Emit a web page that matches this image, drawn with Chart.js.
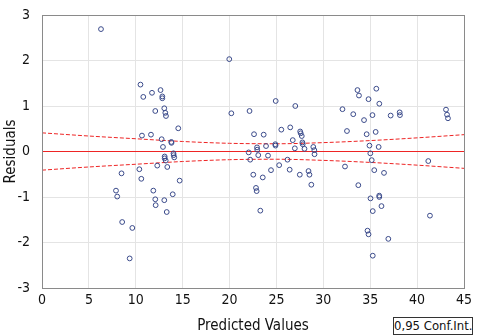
<!DOCTYPE html>
<html>
<head>
<meta charset="utf-8">
<script src="https://cdn.jsdelivr.net/npm/chart.js@4/dist/chart.umd.min.js"></script>
<style>
  html, body { margin: 0; padding: 0; background: #ffffff; }
  #wrap { position: relative; width: 478px; height: 336px; }
  #legendBox {
    position: absolute; left: 393px; top: 317px; width: 78px; height: 16px;
    border: 1px solid #333; box-sizing: content-box;
    font-family: "DejaVu Sans", sans-serif; font-size: 13px; font-stretch: condensed;
    white-space: nowrap; overflow: hidden;
    color: #111; text-align: center; line-height: 16px; background: #fff;
  }
</style>
</head>
<body>
<div id="wrap">
  <canvas id="c" width="478" height="336"></canvas>
  <div id="legendBox">0,95 Conf.Int.</div>
</div>
<script>
// Predicted values (x) and residuals (y) of each observation
const predicted = [
  6.29, 10.50, 10.80, 11.73, 12.64, 12.83, 12.83, 12.08, 13.04, 13.15,
  13.22, 14.53, 10.66, 11.62, 12.76, 13.79, 13.81, 12.90, 13.08, 13.08,
  13.19, 14.02, 14.04, 14.10, 12.29, 13.36, 10.38, 8.48, 10.59, 14.68,
  7.89, 8.02, 11.87, 12.08, 12.12, 13.04, 13.94, 13.30, 8.55, 9.63,
  9.35,
  19.97, 20.19, 22.13, 24.92, 27.01, 22.61, 23.64, 25.52, 26.47, 27.53,
  27.59, 27.70, 26.74, 27.77, 27.80, 24.88, 24.90, 23.89, 22.93, 22.95,
  23.06, 22.04, 22.20, 24.10, 26.96, 27.99, 28.93, 29.04, 29.06, 26.18,
  25.29, 24.42, 26.41, 22.53, 23.54, 27.49, 28.42, 28.52, 28.72, 22.82,
  22.89, 23.28,
  33.64, 33.80, 35.65, 34.82, 35.97, 32.04, 33.19, 34.34, 35.24, 37.18,
  38.14, 38.17, 43.08, 43.19, 43.29, 32.52, 34.62, 35.58, 34.92, 35.90,
  35.01, 35.16, 32.31, 35.43, 36.47, 33.73, 35.03, 35.96, 35.97, 36.20,
  35.27, 34.71, 34.82, 36.93, 35.27, 41.19, 41.37
];
const residuals = [
  2.69, 1.47, 1.20, 1.29, 1.35, 1.21, 1.17, 0.89, 0.95, 0.85,
  0.78, 0.51, 0.35, 0.37, 0.27, 0.21, 0.19, 0.10, -0.11, -0.15,
  -0.20, -0.04, -0.08, -0.13, -0.31, -0.34, -0.39, -0.48, -0.60, -0.64,
  -0.86, -0.99, -0.86, -1.05, -1.18, -1.07, -0.94, -1.33, -1.55, -1.68,
  -2.35,
  2.03, 0.84, 0.89, 1.11, 1.00, 0.38, 0.37, 0.48, 0.53, 0.44,
  0.40, 0.34, 0.25, 0.20, 0.16, 0.16, 0.13, 0.12, 0.09, 0.04,
  -0.08, -0.02, -0.18, -0.09, 0.07, 0.06, 0.10, 0.03, -0.06, -0.18,
  -0.30, -0.41, -0.40, -0.51, -0.57, -0.51, -0.43, -0.51, -0.73, -0.80,
  -0.87, -1.30,
  1.35, 1.23, 1.38, 1.15, 1.05, 0.93, 0.82, 0.69, 0.80, 0.79,
  0.86, 0.80, 0.92, 0.81, 0.73, 0.45, 0.38, 0.43, 0.13, 0.10,
  -0.04, -0.19, -0.33, -0.41, -0.47, -0.74, -1.03, -0.97, -1.00, -1.20,
  -1.31, -1.74, -1.82, -1.92, -2.29, -0.21, -1.41
];

// Confidence band for the zero-residual line
const bandX     = [0, 5, 10, 15, 20, 25, 30, 35, 40, 45];
const bandUpper = [0.41, 0.34, 0.28, 0.22, 0.18, 0.17, 0.195, 0.24, 0.30, 0.37];
const bandLower = [-0.41, -0.34, -0.28, -0.22, -0.18, -0.17, -0.195, -0.24, -0.30, -0.37];

// Fitted line (residual = 0) across the predicted range
const fitX = [0, 45];
const fitY = [0, 0];

const FONT = '"DejaVu Sans", sans-serif';
const STRETCH = 'condensed';   // goes into the canvas font shorthand
const RED = '#ee2424';
const NAVY = '#3a4a8a';

const toPts = (xs, ys) => xs.map((x, i) => ({ x: x, y: ys[i] }));

// Full frame around the plotting area
const frame = {
  id: 'frame',
  afterDraw(chart) {
    const a = chart.chartArea, ctx = chart.ctx;
    ctx.save();
    ctx.strokeStyle = '#8a8a8a';
    ctx.lineWidth = 1;
    ctx.strokeRect(Math.round(a.left) + 0.5, Math.round(a.top) + 0.5,
                   Math.round(a.right - a.left), Math.round(a.bottom - a.top));
    ctx.restore();
  }
};

// Keep tick-label overhang from shrinking the plotting area
function noOverhang(s) {
  s.paddingTop = 0; s.paddingBottom = 0; s.paddingLeft = 0; s.paddingRight = 0;
}

new Chart(document.getElementById('c'), {
  type: 'scatter',
  data: {
    datasets: [
      {
        label: 'Residuals',
        data: toPts(predicted, residuals),
        showLine: false,
        pointStyle: 'circle',
        pointRadius: 2.4,
        pointBorderWidth: 1,
        pointBorderColor: NAVY,
        pointBackgroundColor: 'rgba(255,255,255,0)',
        order: 0
      },
      {
        label: 'Fit',
        data: toPts(fitX, fitY),
        showLine: true,
        borderColor: RED,
        borderWidth: 1,
        pointRadius: 0,
        order: 1
      },
      {
        label: 'Upper',
        data: toPts(bandX, bandUpper),
        showLine: true,
        borderColor: RED,
        borderWidth: 1,
        borderDash: [4, 2],
        cubicInterpolationMode: 'monotone',
        pointRadius: 0,
        order: 2
      },
      {
        label: 'Lower',
        data: toPts(bandX, bandLower),
        showLine: true,
        borderColor: RED,
        borderWidth: 1,
        borderDash: [4, 2],
        cubicInterpolationMode: 'monotone',
        pointRadius: 0,
        order: 2
      }
    ]
  },
  options: {
    responsive: false,
    animation: false,
    events: [],
    layout: { padding: { top: 15, right: 14, left: 0, bottom: 0 } },
    plugins: { legend: { display: false }, tooltip: { enabled: false } },
    scales: {
      x: {
        type: 'linear',
        min: 0, max: 45,
        afterFit(s) { s.height = 48; noOverhang(s); },
        ticks: { stepSize: 5, padding: 4, color: '#111', font: { family: FONT, size: 14, weight: STRETCH } },
        grid: { color: '#e4e4e4', drawTicks: false },
        border: { color: '#8a8a8a' },
        title: {
          display: true, text: 'Predicted Values', color: '#111',
          font: { family: FONT, size: 15, weight: STRETCH }, padding: { top: 0, bottom: 1 }
        }
      },
      y: {
        type: 'linear',
        min: -3, max: 3,
        afterFit(s) { s.width = 42; noOverhang(s); },
        ticks: { stepSize: 1, padding: 12, color: '#111', font: { family: FONT, size: 14, weight: STRETCH } },
        grid: { color: '#e4e4e4', drawTicks: false },
        border: { color: '#8a8a8a' },
        title: {
          display: true, text: 'Residuals', color: '#111',
          font: { family: FONT, size: 15, weight: STRETCH }, padding: { top: 2, bottom: 0 }
        }
      }
    }
  },
  plugins: [frame]
});
</script>
</body>
</html>
